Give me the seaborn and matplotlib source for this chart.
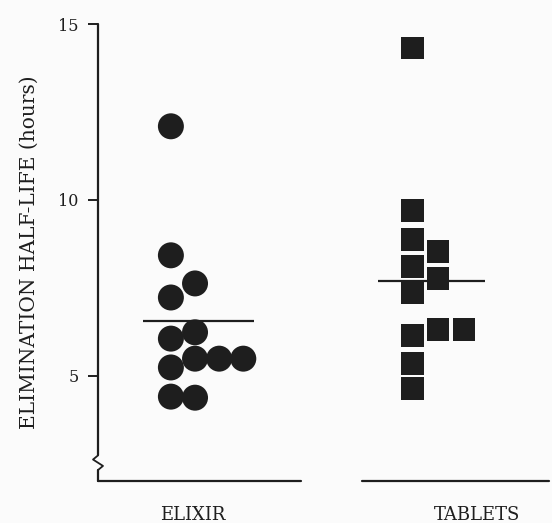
import pandas as pd
import matplotlib
matplotlib.use("Agg")
import matplotlib.pyplot as plt
import matplotlib.transforms as mtransforms
import seaborn as sns

# data
groups = ["ELIXIR", "TABLETS"]
elixir_vals = [12.09, 8.42, 7.62, 7.22, 6.05, 6.23, 5.48, 5.48, 5.48, 5.23, 4.40, 4.37]
elixir_cols = [0, 0, 1, 0, 0, 1, 1, 2, 3, 0, 0, 1]
tablet_vals = [14.32, 9.70, 8.87, 8.11, 7.36, 6.14, 5.34, 4.63, 8.53, 7.76, 6.31, 6.31]
tablet_cols = [0, 0, 0, 0, 0, 0, 0, 0, 1, 1, 1, 2]
group_means = [6.54, 7.68]

sns.set_style("white")
plt.rcParams["font.family"] = ["DejaVu Serif"]

ink = "#1e1e1e"
step = [0.1, 0.107]

df = pd.DataFrame({
    "group": ["ELIXIR"] * len(elixir_vals) + ["TABLETS"] * len(tablet_vals),
    "col": elixir_cols + tablet_cols,
    "value": elixir_vals + tablet_vals,
})
df["x"] = [groups.index(g) + 1 + c * step[groups.index(g)] for g, c in zip(df["group"], df["col"])]

fig = plt.figure(figsize=(5.52, 5.23), dpi=100)
fig.patch.set_facecolor("#fbfbfb")
ax = fig.add_axes([98 / 552, 42 / 523, 454 / 552, 457 / 523])
ax.set_facecolor("#fbfbfb")

sns.scatterplot(data=df[df["group"] == "ELIXIR"], x="x", y="value", marker="o",
                s=350, color=ink, edgecolor="none", ax=ax, legend=False)
sns.scatterplot(data=df[df["group"] == "TABLETS"], x="x", y="value", marker="s",
                s=265, color=ink, edgecolor="none", ax=ax, legend=False)

# mean lines
mean_span = [(0.884, 1.343), (1.86, 2.30)]
for m, (a, b) in zip(group_means, mean_span):
    ax.hlines(m, a, b, color=ink, linewidth=1.6, zorder=3)

ax.set_xlim(0.698, 2.579)
ax.set_ylim(2.0, 15)
ax.set_yticks([5, 10, 15])
ax.set_yticklabels(["5", "10", "15"], fontsize=11.5, color=ink)
ax.set_xticks([])
ax.set_xlabel("")
ax.set_ylabel("ELIMINATION HALF-LIFE (hours)", fontsize=14.5, color=ink, labelpad=14)
ax.tick_params(axis="y", direction="out", length=7, width=1.4, color=ink, pad=7, left=True)

for sp in ax.spines.values():
    sp.set_visible(False)

# left axis with break mark near the bottom
yb = 0.04
ax.plot([0, 0], [1, yb + 0.016], transform=ax.transAxes, color=ink, lw=1.6, clip_on=False)
ax.plot([0, -0.011, 0.011, 0], [yb + 0.016, yb + 0.007, yb - 0.007, yb - 0.016],
        transform=ax.transAxes, color=ink, lw=1.3, clip_on=False)
ax.plot([0, 0], [yb - 0.016, 0], transform=ax.transAxes, color=ink, lw=1.6, clip_on=False)

# split baseline under each group
trans = mtransforms.blended_transform_factory(ax.transData, ax.transAxes)
for a, b in [(0.698, 1.537), (1.793, 2.566)]:
    ax.plot([a, b], [0, 0], transform=trans, color=ink, lw=1.6, clip_on=False)

for g, xc in zip(groups, [1.09, 2.27]):
    ax.text(xc, -0.075, g, transform=trans, ha="center", va="center",
            fontsize=13, color=ink)

fig.savefig("out.png", dpi=100, facecolor=fig.get_facecolor())
